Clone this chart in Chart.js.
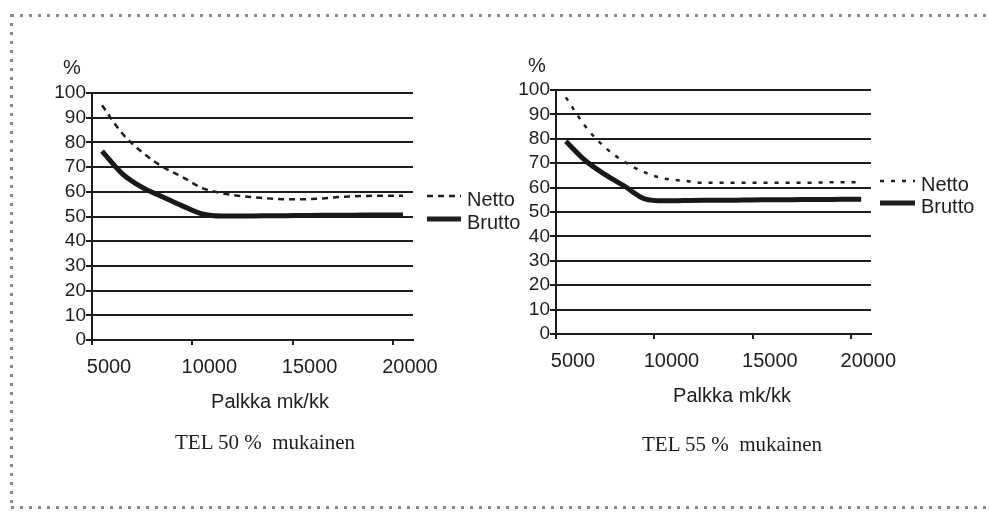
<!DOCTYPE html>
<html>
<head>
<meta charset="utf-8">
<script src="https://cdn.jsdelivr.net/npm/chart.js@4/dist/chart.umd.min.js"></script>
<style>
    body { margin: 0; background: #fff; }
    #page { position: relative; width: 989px; height: 516px; overflow: hidden; background: #fff; }
    canvas { position: absolute; top: 0; }
    #chartLeft { left: 0; }
    #chartRight { left: 470px; }
    .dots-h { position: absolute; height: 3px;
        background: repeating-linear-gradient(90deg, #8a8a8a 0 3px, transparent 3px 9px); }
    .dots-v { position: absolute; width: 3px;
        background: repeating-linear-gradient(180deg, #8a8a8a 0 3px, transparent 3px 9px); }
    .axis-title { position: absolute; transform: translate(-50%, -50%); white-space: nowrap;
        font: 20px "Liberation Sans", Arial, sans-serif; color: #1e1e1e; }
    .caption { position: absolute; transform: translate(-50%, -50%); white-space: pre;
        font: 21px "Liberation Serif", "Times New Roman", serif; color: #1e1e1e; }
</style>
</head>
<body>
<div id="page">
    <div class="dots-h" style="left:11px; top:14px; width:978px;"></div>
    <div class="dots-v" style="left:10px; top:14px; height:494px;"></div>
    <div class="dots-h" style="left:11px; top:506px; width:978px;"></div>

    <canvas id="chartLeft" width="530" height="400"></canvas>
    <canvas id="chartRight" width="519" height="400"></canvas>

    <div class="axis-title" style="left:270px; top:401px;">Palkka mk/kk</div>
    <div class="axis-title" style="left:732px; top:395px;">Palkka mk/kk</div>
    <div class="caption" style="left:265px; top:442px;">TEL 50 %  mukainen</div>
    <div class="caption" style="left:732px; top:444px;">TEL 55 %  mukainen</div>
</div>

<script>
// ================================
// DATA
// ================================
const salary = [5500, 6500, 7500, 8500, 9500, 10500, 11500, 12500,
                13500, 14500, 15500, 16500, 17500, 18500, 19500, 20500];
const xTicks = [5000, 10000, 15000, 20000];
const seriesNames = ["Netto", "Brutto"];

// TEL 50 %
const netto50  = [95, 83.7, 76, 70.2, 66, 61.5, 59.4, 58.2, 57.5, 57, 57, 57.3, 58, 58.3, 58.4, 58.4];
const brutto50 = [76.5, 67.4, 61.8, 58, 54.3, 51, 50.2, 50.2, 50.3, 50.3, 50.4, 50.5, 50.5, 50.6, 50.6, 50.6];

// TEL 55 %
const netto55  = [97, 85, 76.4, 70.5, 66.2, 63.7, 62.8, 62, 62, 62, 62, 62, 62, 62.1, 62.2, 62.2];
const brutto55 = [79, 71, 65.3, 60.5, 55.4, 54.6, 54.7, 54.8, 54.8, 54.9, 55, 55, 55.1, 55.1, 55.2, 55.2];

const INK = "#1e1e1e";
const SANS = '"Liberation Sans", Arial, sans-serif';

/* ------------------------------
   "%" LABEL + SIDE LEGEND
------------------------------ */
const sideLegend = {
    id: "sideLegend",
    afterDraw(chart, args, opts) {
        const ctx = chart.ctx;
        const area = chart.chartArea;
        ctx.save();
        ctx.fillStyle = INK;
        ctx.font = "20px " + SANS;
        ctx.textAlign = "center";
        ctx.textBaseline = "middle";
        ctx.fillText("%", area.left + opts.pct[0], area.top + opts.pct[1]);

        chart.data.datasets.forEach((ds, i) => {
            const y = area.top + opts.rows[i];
            ctx.beginPath();
            ctx.strokeStyle = INK;
            ctx.lineWidth = ds.borderWidth;
            ctx.setLineDash(ds.borderDash || []);
            ctx.moveTo(area.right + opts.x0, y);
            ctx.lineTo(area.right + opts.x1, y);
            ctx.stroke();
            ctx.setLineDash([]);
            ctx.textAlign = "left";
            ctx.fillText(ds.label, area.right + opts.x1 + 6, y + 4);
        });
        ctx.restore();
    }
};

function makeChart(id, netto, brutto, geo) {
    return new Chart(document.getElementById(id), {
        type: "line",
        data: {
            datasets: [{
                label: seriesNames[0],
                data: salary.map((x, i) => ({ x: x, y: netto[i] })),
                borderColor: INK,
                borderWidth: 2.5,
                borderDash: geo.dash,
                pointRadius: 0,
                cubicInterpolationMode: "monotone"
            }, {
                label: seriesNames[1],
                data: salary.map((x, i) => ({ x: x, y: brutto[i] })),
                borderColor: "#181818",
                borderWidth: 5,
                pointRadius: 0,
                cubicInterpolationMode: "monotone"
            }]
        },
        options: {
            responsive: false,
            animation: false,
            devicePixelRatio: 1,
            layout: { padding: geo.padding },
            plugins: {
                legend: { display: false },
                tooltip: { enabled: false },
                sideLegend: geo.legend
            },
            scales: {
                x: {
                    type: "linear",
                    min: 5000,
                    max: 21000,
                    afterBuildTicks: s => { s.ticks = xTicks.map(v => ({ value: v })); },
                    afterFit: s => { s.height = 40; },
                    ticks: {
                        color: INK,
                        font: { family: SANS, size: 20 },
                        labelOffset: 17,
                        padding: 10,
                        maxRotation: 0,
                        autoSkip: false,
                        callback: v => String(v)
                    },
                    grid: { drawOnChartArea: false, drawTicks: true, tickLength: 5, color: INK, lineWidth: 2 },
                    border: { display: true, color: INK, width: 2 }
                },
                y: {
                    min: 0,
                    max: 100,
                    afterFit: s => { s.width = geo.yWidth; },
                    ticks: {
                        stepSize: 10,
                        autoSkip: false,
                        color: INK,
                        font: { family: SANS, size: 19 },
                        padding: 0
                    },
                    grid: { color: INK, lineWidth: 2, tickLength: 6 },
                    border: { display: true, color: INK, width: 2 }
                }
            }
        },
        plugins: [sideLegend]
    });
}

document.addEventListener("DOMContentLoaded", () => {

    makeChart("chartLeft", netto50, brutto50, {
        yWidth: 92,
        padding: { left: 0, top: 93, right: 117, bottom: 20 },
        dash: [6, 5],
        legend: { pct: [-20, -25], rows: [103, 126], x0: 14, x1: 48 }
    });

    makeChart("chartRight", netto55, brutto55, {
        yWidth: 86,
        padding: { left: 0, top: 90, right: 118, bottom: 26 },
        dash: [4, 7],
        legend: { pct: [-19, -24], rows: [91, 113], x0: 9, x1: 44 }
    });

});
</script>
</body>
</html>
